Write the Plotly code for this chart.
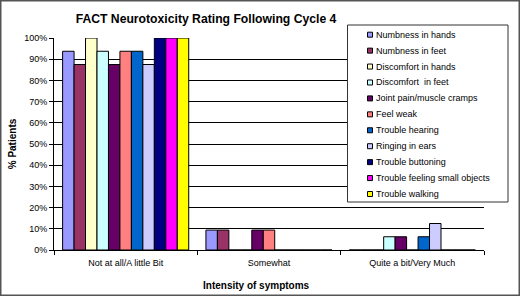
import plotly.graph_objects as go

categories = ["Not at all/A little Bit", "Somewhat", "Quite a bit/Very Much"]
series_names = [
    "Numbness in hands", "Numbness in feet", "Discomfort in hands",
    "Discomfort  in feet", "Joint pain/muscle cramps", "Feel weak",
    "Trouble hearing", "Ringing in ears", "Trouble buttoning",
    "Trouble feeling small objects", "Trouble walking",
]
numbness_hands = [93.75, 9.4, 0]
numbness_feet = [87.5, 9.4, 0]
discomfort_hands = [100, 0, 0]
discomfort_feet = [93.75, 0, 6.25]
joint_pain = [87.5, 9.4, 6.25]
feel_weak = [93.75, 9.4, 0]
trouble_hearing = [93.75, 0, 6.25]
ringing_ears = [87.5, 0, 12.5]
trouble_buttoning = [100, 0, 0]
trouble_feeling = [100, 0, 0]
trouble_walking = [100, 0, 0]
series_values = [numbness_hands, numbness_feet, discomfort_hands, discomfort_feet,
                 joint_pain, feel_weak, trouble_hearing, ringing_ears,
                 trouble_buttoning, trouble_feeling, trouble_walking]
colors = ["#9999FF", "#993366", "#FFFFCC", "#CCFFFF", "#660066", "#FF8080",
          "#0066CC", "#CCCCFF", "#000080", "#FF00FF", "#FFFF00"]
y_tick_vals = [0, 10, 20, 30, 40, 50, 60, 70, 80, 90, 100]
y_tick_text = ["0%", "10%", "20%", "30%", "40%", "50%", "60%", "70%", "80%", "90%", "100%"]

FONT = "Arial, Liberation Sans, sans-serif"
fig = go.Figure()
for name, vals, col in zip(series_names, series_values, colors):
    fig.add_trace(go.Bar(name=name, x=categories, y=vals, showlegend=False,
                         marker=dict(color=col, line=dict(color="#000000", width=1))))

W, H = 520, 296
L, R, T, B = 54, 36, 38, 46
pw, ph = W - L - R, H - T - B

def px_x(p):
    return (p - L) / pw

def px_y(p):
    return (H - B - p) / ph

fig.update_layout(
    width=W, height=H,
    margin=dict(l=L, r=R, t=T, b=B, autoexpand=False),
    paper_bgcolor="white", plot_bgcolor="white",
    barmode="group", bargap=0.12, bargroupgap=0,
    font=dict(family=FONT, size=9, color="#000000"),
    title=dict(text="<b>FACT Neurotoxicity Rating Following Cycle 4</b>",
               font=dict(size=12.2, family=FONT), x=206 / W, xref="container", xanchor="center",
               y=1 - 19 / H, yanchor="middle"),
    showlegend=False,
    xaxis=dict(showline=True, linecolor="#000000", linewidth=1, automargin=False,
               ticks="outside", tickson="boundaries", ticklen=4, tickcolor="#000000",
               ticklabelstandoff=4, tickfont=dict(size=9)),
    yaxis=dict(range=[0, 100], tickvals=y_tick_vals, ticktext=y_tick_text,
               showline=True, linecolor="#000000", linewidth=1, automargin=False,
               ticks="outside", ticklen=4, tickcolor="#000000",
               showgrid=True, gridcolor="#000000", gridwidth=1,
               tickfont=dict(size=9),
               title=dict(text="<b>% Patients</b>", font=dict(size=10), standoff=5)),
)
# x-axis title
fig.add_annotation(text="<b>Intensity of symptoms</b>", xref="paper", yref="paper",
                   x=px_x(256), y=px_y(285), xanchor="center", yanchor="middle",
                   showarrow=False, font=dict(size=10, family=FONT))
# outer chart border
fig.add_shape(type="rect", xref="paper", yref="paper",
              x0=px_x(0.75), x1=px_x(519.25), y0=px_y(295.25), y1=px_y(0.75),
              line=dict(color="#555555", width=1.5), layer="below")
# legend box (Excel-style)
fig.add_shape(type="rect", xref="paper", yref="paper",
              x0=px_x(347.5), x1=px_x(508), y0=px_y(202), y1=px_y(25),
              fillcolor="white", line=dict(color="#333333", width=1), layer="above")
row0, row_step = 34.7, 15.93
for i, (name, col) in enumerate(zip(series_names, colors)):
    cy = row0 + i * row_step
    fig.add_shape(type="rect", xref="paper", yref="paper",
                  x0=px_x(367.5), x1=px_x(372.5), y0=px_y(cy + 2.5), y1=px_y(cy - 2.5),
                  fillcolor=col, line=dict(color="#000000", width=1), layer="above")
    fig.add_annotation(text=name, xref="paper", yref="paper",
                       x=px_x(374), y=px_y(cy), xanchor="left", yanchor="middle",
                       showarrow=False, font=dict(size=9, family=FONT))
fig.write_html("out.html", config={"displayModeBar": False},
               post_script="document.body.style.margin='0';")
